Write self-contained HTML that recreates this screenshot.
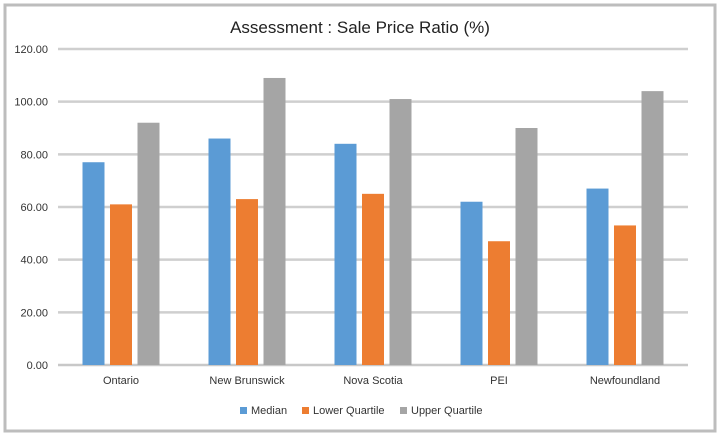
<!DOCTYPE html>
<html><head><meta charset="utf-8"><style>
body{margin:0;background:#fff;}
svg{display:block;font-family:"Liberation Sans",sans-serif;}
</style></head><body>
<svg id="chart" width="720" height="436">
<rect x="5" y="5" width="710" height="426" fill="#fff" stroke="#bdbdbd" stroke-width="3"/>
<text x="360" y="33" text-anchor="middle" font-size="17" fill="#222">Assessment : Sale Price Ratio (%)</text>
<g id="grid"></g><g id="bars"></g><g id="labels"></g>
<g font-size="11" fill="#333">
<rect x="240" y="407" width="7" height="7" fill="#5B9BD5"/>
<text x="251" y="414">Median</text>
<rect x="302" y="407" width="7" height="7" fill="#ED7D31"/>
<text x="313" y="414">Lower Quartile</text>
<rect x="400" y="407" width="7" height="7" fill="#A5A5A5"/>
<text x="411" y="414">Upper Quartile</text>
</g>
</svg>
<script>
const categories=["Ontario","New Brunswick","Nova Scotia","PEI","Newfoundland"];
const median=[77,86,84,62,67];
const lowerQuartile=[61,63,65,47,53];
const upperQuartile=[92,109,101,90,104];
const yTicks=[0,20,40,60,80,100,120];
const NS="http://www.w3.org/2000/svg";
const x0=58,x1=688,yBase=365,yTop=49,yMax=120;
const y=v=>yBase-(v/yMax)*(yBase-yTop);
const gw=(x1-x0)/categories.length;
const cx=i=>x0+gw*(i+0.5);
function mk(t,a){const e=document.createElementNS(NS,t);for(const k in a)e.setAttribute(k,a[k]);return e;}
const grid=document.getElementById('grid'),bars=document.getElementById('bars'),labels=document.getElementById('labels');
yTicks.forEach(v=>{
 const l=mk('line',{x1:x0,x2:x1,y1:y(v),y2:y(v),stroke:v===0?'#c8c8c8':'#cfcfcf','stroke-width':2.5});
 
 
 grid.appendChild(l);
 const t=mk('text',{x:48,y:y(v)+4,'text-anchor':'end','font-size':11,fill:'#333'});
 t.textContent=v.toFixed(2);
 
 
 labels.appendChild(t);
});
const series=[[median,'#5B9BD5','median'],[lowerQuartile,'#ED7D31','lower-quartile'],[upperQuartile,'#A5A5A5','upper-quartile']];
const bw=22,gap=5.5;
categories.forEach((c,i)=>{
 series.forEach((s,j)=>{
  const bx=cx(i)+(j-1)*(bw+gap)-bw/2;
  const r=mk('rect',{x:bx,y:y(s[0][i]),width:bw,height:yBase-y(s[0][i]),fill:s[1]});
  
  
  bars.appendChild(r);
 });
 const t=mk('text',{x:cx(i),y:384,'text-anchor':'middle','font-size':11,fill:'#333'});
 t.textContent=c;
 
 
 labels.appendChild(t);
});
</script>
</body></html>
